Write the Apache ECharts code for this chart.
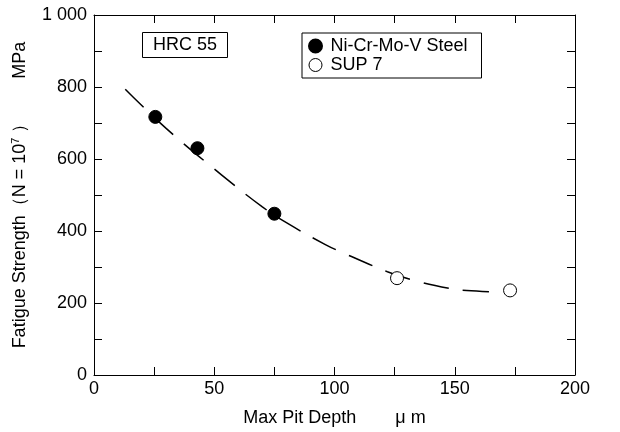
<!DOCTYPE html>
<html>
<head>
<meta charset="utf-8">
<script src="https://cdn.jsdelivr.net/npm/echarts@6/dist/echarts.min.js"></script>
<style>
  html, body { margin: 0; padding: 0; background: #fff; }
  #chart { width: 620px; height: 432px; }
</style>
</head>
<body>
<div id="chart"></div>
<script>
// measured points
var steelDepth = [25.5, 43, 75];
var steelStrength = [717, 630, 448];
var supDepth = [126, 173];
var supStrength = [269, 235];
// dashed fit curve
var curveDepth = [13, 30, 53, 70, 80, 96, 104, 122, 134, 149, 155, 166];
var curveStrength = [794, 685, 556, 467, 423, 363, 338, 287, 261, 239, 235, 231];

function pairs(xs, ys) {
  return xs.map(function (x, i) { return [x, ys[i]]; });
}

var font = "Liberation Sans, Arial, sans-serif";
var chart = echarts.init(document.getElementById("chart"));

chart.setOption({
  animation: false,
  backgroundColor: "#fff",
  textStyle: { fontFamily: font, color: "#000" },
  title: {
    text: "HRC 55",
    left: 142,
    top: 32,
    padding: [4, 11, 4, 11],
    borderWidth: 1,
    borderColor: "#000",
    textStyle: { fontFamily: font, fontSize: 18, fontWeight: "normal", color: "#000" }
  },
  legend: {
    orient: "vertical",
    left: 302,
    top: 33,
    padding: [4, 14, 4, 6],
    itemGap: 1,
    itemWidth: 20,
    itemHeight: 13,
    borderWidth: 1,
    borderColor: "#000",
    textStyle: { fontFamily: font, fontSize: 18, color: "#000" },
    data: [
      { name: "Ni-Cr-Mo-V Steel", icon: "circle" },
      { name: "SUP 7", icon: "circle", itemStyle: { color: "#fff", borderColor: "#000", borderWidth: 1 } }
    ]
  },
  grid: { left: 94, right: 45, top: 15, bottom: 57 },
  xAxis: [
    {
      type: "value",
      min: 0,
      max: 200,
      interval: 25,
      name: "{a|Max Pit Depth}{g|}{a|μ m}",
      nameLocation: "middle",
      nameGap: 34,
      nameTextStyle: {
        rich: {
          a: { fontFamily: font, fontSize: 18, color: "#000" },
          g: { width: 39 }
        }
      },
      axisLine: { onZero: false, lineStyle: { color: "#000", width: 1 } },
      axisTick: { inside: true, length: 8, lineStyle: { color: "#000" } },
      axisLabel: {
        fontFamily: font, fontSize: 18, color: "#000", margin: 5,
        formatter: function (v) { return v % 50 === 0 ? String(v) : ""; }
      },
      splitLine: { show: false }
    },
    {
      type: "value",
      position: "top",
      min: 0,
      max: 200,
      interval: 25,
      axisLine: { onZero: false, lineStyle: { color: "#000", width: 1 } },
      axisTick: { inside: true, length: 8, lineStyle: { color: "#000" } },
      axisLabel: { show: false },
      splitLine: { show: false }
    }
  ],
  yAxis: [
    {
      type: "value",
      min: 0,
      max: 1000,
      interval: 100,
      name: "{a|Fatigue Strength（N = 10}{s|7}{a| ）}{g|}{a|MPa}",
      nameLocation: "middle",
      nameRotate: 90,
      nameGap: 64,
      nameTextStyle: {
        rich: {
          a: { fontFamily: font, fontSize: 18, color: "#000" },
          s: { fontFamily: font, fontSize: 11, color: "#000", verticalAlign: "top", padding: [0, 0, 9, 0] },
          g: { width: 36 }
        }
      },
      axisLine: { onZero: false, lineStyle: { color: "#000", width: 1 } },
      axisTick: { inside: true, length: 8, lineStyle: { color: "#000" } },
      axisLabel: {
        fontFamily: font, fontSize: 18, color: "#000", margin: 7,
        formatter: function (v) {
          if (v % 200 !== 0) return "";
          return v === 1000 ? "1 000" : String(v);
        }
      },
      splitLine: { show: false }
    },
    {
      type: "value",
      position: "right",
      min: 0,
      max: 1000,
      interval: 100,
      axisLine: { onZero: false, lineStyle: { color: "#000", width: 1 } },
      axisTick: { inside: true, length: 8, lineStyle: { color: "#000" } },
      axisLabel: { show: false },
      splitLine: { show: false }
    }
  ],
  series: [
    {
      name: "fit",
      type: "line",
      smooth: 0.4,
      showSymbol: false,
      symbol: "none",
      silent: true,
      lineStyle: { color: "#000", width: 1.5, type: [26, 14] },
      data: pairs(curveDepth, curveStrength),
      z: 1
    },
    {
      name: "Ni-Cr-Mo-V Steel",
      type: "scatter",
      symbol: "circle",
      symbolSize: 13,
      itemStyle: { color: "#000", borderColor: "#000", borderWidth: 1, opacity: 1 },
      data: pairs(steelDepth, steelStrength),
      z: 3
    },
    {
      name: "SUP 7",
      type: "scatter",
      symbol: "circle",
      symbolSize: 13,
      itemStyle: { color: "#fff", borderColor: "#000", borderWidth: 1, opacity: 1 },
      data: pairs(supDepth, supStrength),
      z: 3
    }
  ]
});
</script>
</body>
</html>
